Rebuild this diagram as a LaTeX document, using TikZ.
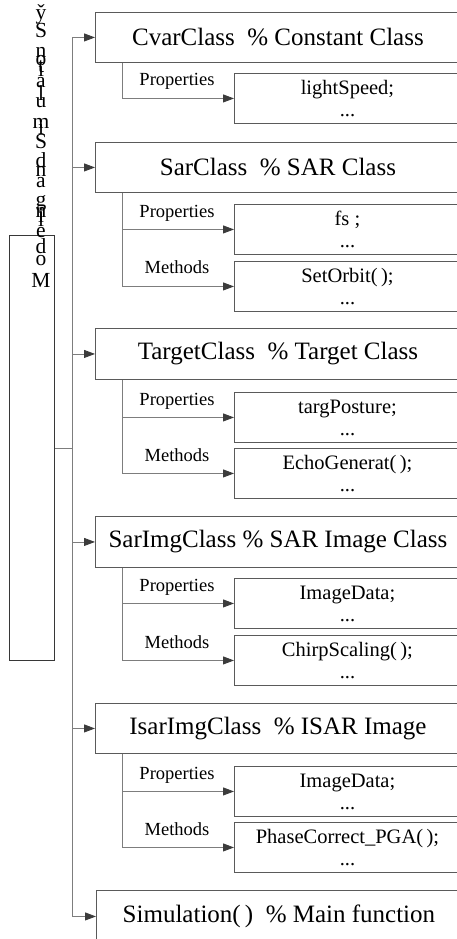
\documentclass[tikz,border=0pt]{standalone}
\usepackage{fontspec}
\setmainfont{Liberation Serif}
\usetikzlibrary{arrows.meta}
\definecolor{conn}{RGB}{125,125,125}
\definecolor{boxc}{RGB}{90,90,90}
\definecolor{headc}{RGB}{60,60,60}
\definecolor{leftc}{RGB}{55,55,55}
\newcommand\vgl[2]{\kern#2\relax\hbox to 0pt{\hss\smash{#1}\hss}}
\tikzset{
  titlebox/.style={draw=boxc, line width=0.9pt, minimum width=365pt, minimum height=50pt,
    anchor=north west, inner sep=0pt, font=\fontsize{25}{28}\selectfont},
  itembox/.style={draw=boxc, line width=0.9pt, minimum width=226pt, minimum height=50pt,
    anchor=north west, inner sep=0pt, align=center, font=\fontsize{20.5}{22}\selectfont},
  conline/.style={draw=conn, line width=0.9pt},
  arr/.style={conline, -{Triangle[length=11pt,width=8pt,fill=headc,color=headc]}},
  lbl/.style={anchor=base, font=\fontsize{18.5}{20}\selectfont, inner sep=0pt},
  vtext/.style={inner sep=0pt, anchor=base, font=\fontsize{21.5}{21.5}\selectfont},
  leftbox/.style={draw=leftc, line width=0.9pt, minimum width=45pt, minimum height=425pt,
    anchor=north west, inner sep=0pt},
}
\begin{document}
\begin{tikzpicture}[x=1pt,y=-1pt]
\useasboundingbox (0,0) rectangle (457,939);

% left box and stacked vertical characters
\node[leftbox] (lb) at (9,235) {};
\node[vtext] (vt) at (41,287) {\vbox{\offinterlineskip
  \vgl{\v{y}}{0pt}\vgl{S}{18pt}\vgl{n}{20pt}\vgl{o}{8pt}\vgl{t}{7pt}\vgl{i}{4pt}%
  \vgl{a}{11pt}\vgl{l}{13pt}\vgl{u}{7pt}\vgl{m}{21pt}\vgl{i}{6pt}\vgl{S}{14pt}%
  \vgl{d}{19pt}\vgl{n}{9pt}\vgl{a}{11pt}\vgl{g}{19pt}\vgl{n}{11pt}\vgl{i}{5pt}%
  \vgl{l}{4pt}\vgl{e}{11pt}\vgl{d}{16pt}\vgl{o}{12pt}\vgl{M}{22pt}}};

% title boxes
\node[titlebox] (t1) at (95,12)  {CvarClass\ \ \% Constant Class};
\node[titlebox] (t2) at (95,142) {SarClass\ \ \% SAR Class};
\node[titlebox, minimum height=51pt] (t3) at (95,328) {TargetClass\ \ \% Target Class};
\node[titlebox, minimum height=51pt] (t4) at (95,516) {SarImgClass \% SAR Image Class};
\node[titlebox] (t5) at (95,703) {IsarImgClass\ \ \% ISAR Image};
\node[titlebox, minimum height=52pt] (t6) at (96,890) {Simulation(\,)\ \ \% Main function};

% item boxes
\node[itembox] (p1) at (234,73)  {lightSpeed;\\...};
\node[itembox] (p2) at (234,204) {fs ;\\...};
\node[itembox] (m2) at (234,261) {SetOrbit(\,);\\...};
\node[itembox] (p3) at (234,392) {targPosture;\\...};
\node[itembox] (m3) at (234,448) {EchoGenerat(\,);\\...};
\node[itembox] (p4) at (234,578) {ImageData;\\...};
\node[itembox] (m4) at (234,635) {ChirpScaling(\,);\\...};
\node[itembox] (p5) at (234,766) {ImageData;\\...};
\node[itembox] (m5) at (234,822) {PhaseCorrect\_PGA(\,);\\...};

% trunk
\coordinate (tx) at (72,0);
\coordinate (j) at (72,448);
\draw[conline] (t1.west -| tx) -- (t6.west -| tx);
\draw[conline] (lb.east |- j) -- (j);
\foreach \t in {t1,t2,t3,t4,t5,t6}
  \draw[arr] (\t.west -| tx) -- (\t.west);

% sub branches
\draw[arr] ([xshift=27pt]t1.south west) |- (p1.west);
\foreach \t/\p/\m in {t2/p2/m2, t3/p3/m3, t4/p4/m4, t5/p5/m5}{
  \draw[arr] ([xshift=27pt]\t.south west) |- (\m.west);
  \draw[arr] ([xshift=27pt]\t.south west |- \p.west) -- (\p.west);
}

% labels
\node[lbl] (lp1) at (177,86)  {Properties};
\node[lbl] (lp2) at (177,217) {Properties};
\node[lbl] (lm2) at (177,273) {Methods};
\node[lbl] (lp3) at (177,405) {Properties};
\node[lbl] (lm3) at (177,461) {Methods};
\node[lbl] (lp4) at (177,591) {Properties};
\node[lbl] (lm4) at (177,648) {Methods};
\node[lbl] (lp5) at (177,779) {Properties};
\node[lbl] (lm5) at (177,835) {Methods};
\end{tikzpicture}
\end{document}
